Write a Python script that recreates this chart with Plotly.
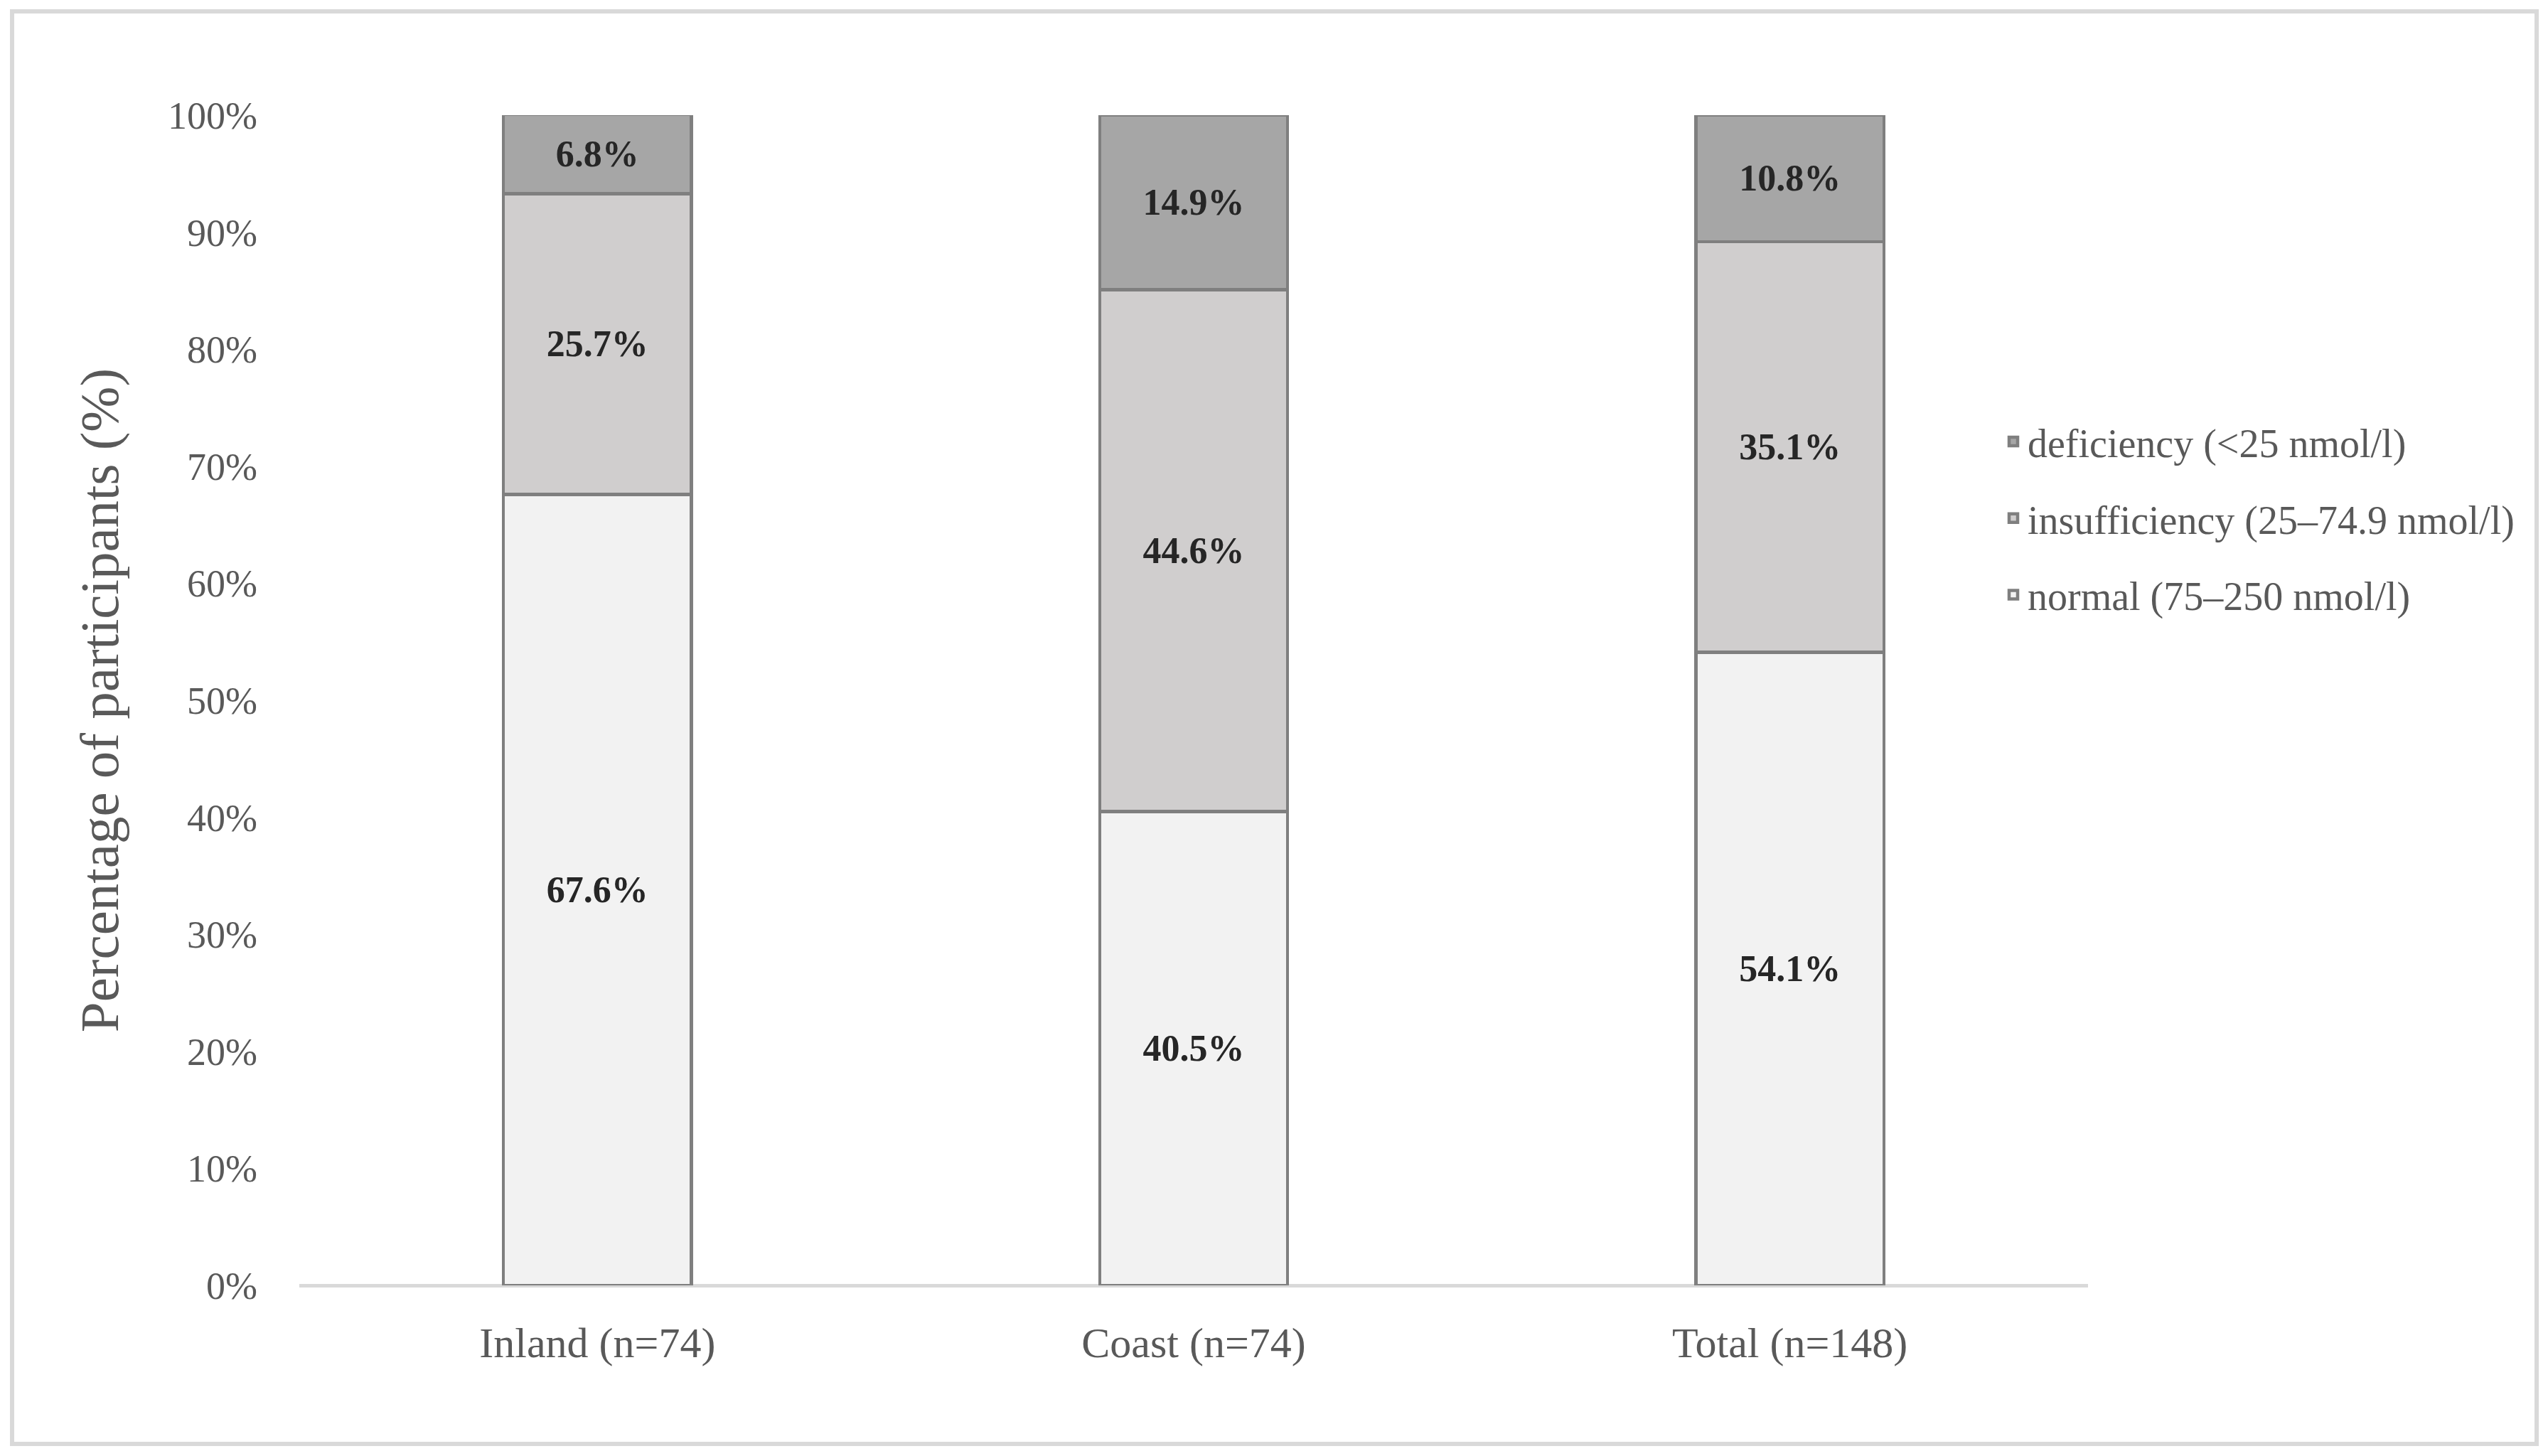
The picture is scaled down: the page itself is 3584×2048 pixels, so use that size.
import plotly.graph_objects as go

categories = ["Inland (n=74)", "Coast (n=74)", "Total (n=148)"]
normal = [67.6, 40.5, 54.1]
insufficiency = [25.7, 44.6, 35.1]
deficiency = [6.8, 14.9, 10.8]
series_names = ["normal (75\u2013250 nmol/l)", "insufficiency (25\u201374.9 nmol/l)", "deficiency (<25 nmol/l)"]
series_colors = ["#f2f2f2", "#d0cece", "#a6a6a6"]
legend_ranks = [3, 2, 1]
y_ticks = [0, 10, 20, 30, 40, 50, 60, 70, 80, 90, 100]
y_ticktext = [f"{v}%" for v in y_ticks]

# page has an 8px body margin; figure coords = page coords - 8
W, H = 3568, 2032
L, R, T, B = 413, W - 2929, 154, H - 1800
FONT = "Liberation Serif"

fig = go.Figure()
for name, vals, col, rank in zip(series_names, [normal, insufficiency, deficiency], series_colors, legend_ranks):
    fig.add_trace(go.Bar(
        x=categories, y=vals, name=name, legendgroup=name, legendrank=rank,
        marker=dict(color=col, line=dict(color="#7f7f7f", width=4.5)),
        text=[f"{v:.1f}%" for v in vals],
        textposition="inside", insidetextanchor="middle", textangle=0,
        textfont=dict(family=FONT, size=52, color="#262626", weight="bold"),
        width=0.315,
    ))

def px_x(p):
    return (p - L) / (W - L - R)

def px_y(p):
    return (H - B - p) / (H - T - B)

fig.add_shape(type="rect", xref="paper", yref="paper",
              x0=px_x(9), x1=px_x(3560), y0=px_y(2023), y1=px_y(8),
              line=dict(color="#d9d9d9", width=6), fillcolor="rgba(0,0,0,0)", layer="below")

fig.update_layout(
    width=W, height=H,
    margin=dict(l=L, r=R, t=T, b=B),
    barmode="stack", bargap=0.685,
    paper_bgcolor="white", plot_bgcolor="white",
    font=dict(family=FONT, color="#595959", size=54),
    showlegend=True,
    legend=dict(traceorder="grouped", x=px_x(2804), xanchor="left", y=px_y(721), yanchor="middle",
                font=dict(family=FONT, size=56, color="#595959"), tracegroupgap=32,
                bgcolor="rgba(0,0,0,0)"),
    xaxis=dict(showgrid=False, showline=False, zeroline=False, ticks="",
               tickfont=dict(family=FONT, size=60, color="#595959"), ticklabelstandoff=40),
    yaxis=dict(range=[0, 100], tickvals=y_ticks, ticktext=y_ticktext, showgrid=False,
               zeroline=True, zerolinecolor="#d9d9d9", zerolinewidth=5, showline=False, ticks="",
               tickfont=dict(family=FONT, size=54, color="#595959"), ticklabelstandoff=58,
               title=dict(text="Percentage of participants (%)", standoff=44,
                          font=dict(family=FONT, size=77, color="#595959"))),
)

fig.write_html("out.html")
